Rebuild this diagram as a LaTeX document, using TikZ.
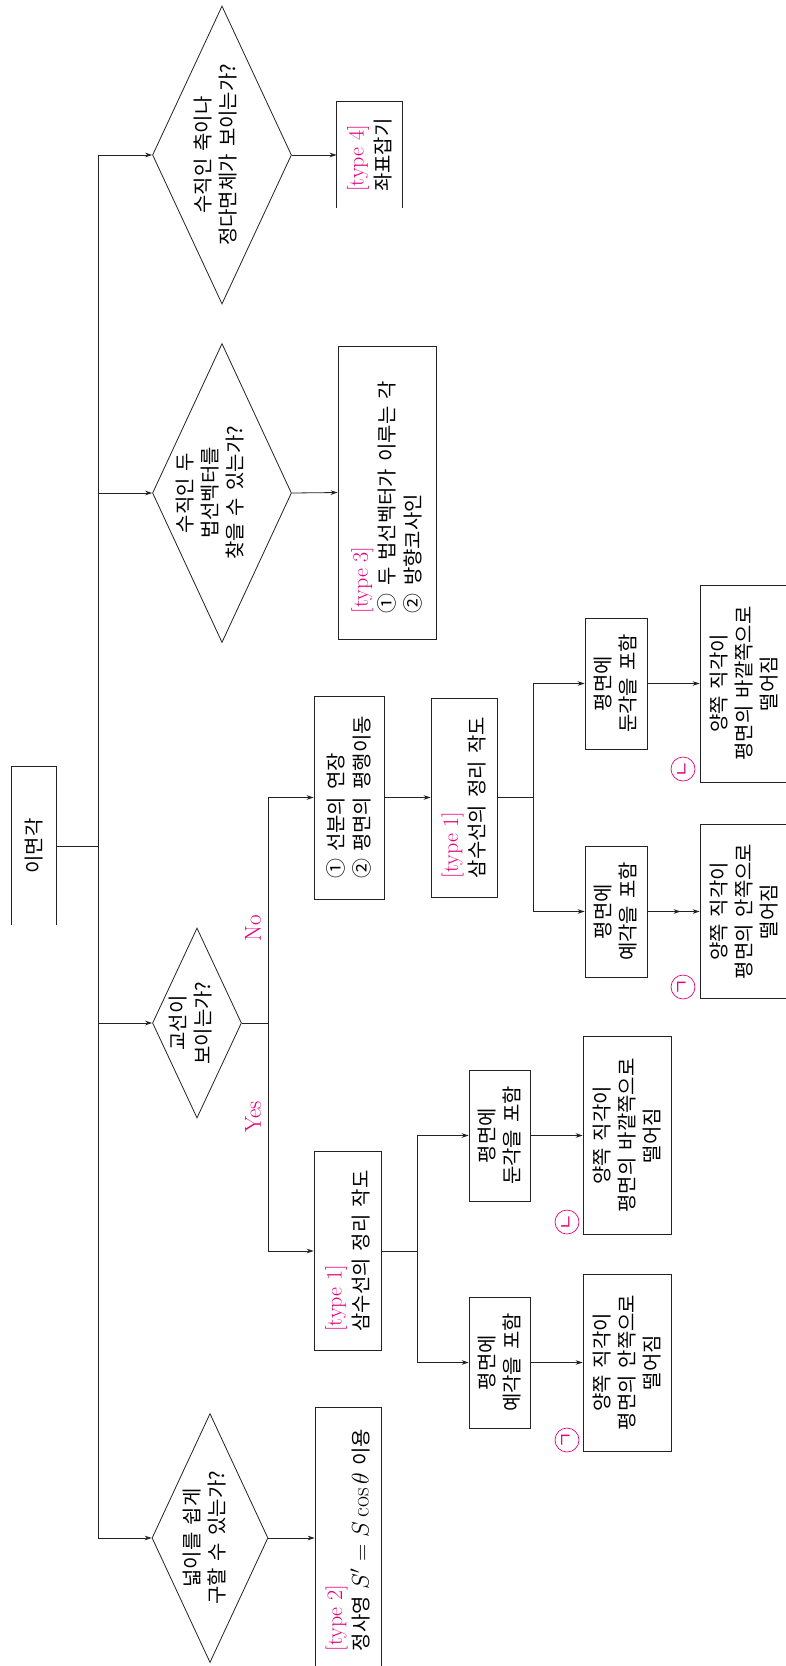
\documentclass[tikz,border=0pt]{standalone}
\usepackage{fix-cm}
\usepackage{fontspec}
\newfontfamily\kr[Scale=0.95,WordSpace=1.6]{Noto Sans CJK KR}
\usetikzlibrary{shapes.geometric,arrows.meta}
\definecolor{mag}{RGB}{228,0,127}
\definecolor{ln}{RGB}{35,35,35}
\newcommand\tg[1]{{\fontsize{22}{26.5}\selectfont\rmfamily\color{mag}#1}}
\newcommand\mth[1]{{\fontsize{24}{26.5}\selectfont$#1$}}
\begin{document}
\begin{tikzpicture}[x=1pt,y=-1pt,color=ln,line width=0.8pt,
  arr/.style={-{Stealth[length=7pt,width=4.6pt]}},
  arrtwo/.style={-{Stealth[length=7pt,width=4.6pt,sep=12pt]Stealth[length=7pt,width=4.6pt]}},
  box/.style={draw=ln, rectangle, inner sep=0pt},
  openbox/.style={rectangle, inner sep=0pt},
  dia/.style={draw=ln, diamond, inner sep=0pt},
  txt/.style={rotate=90, inner sep=0pt, align=center, text=black, font=\fontsize{21}{25}\selectfont\kr},
  ltxt/.style={txt, align=left, font=\fontsize{21}{26.5}\selectfont\kr},
  tag/.style={rotate=90, inner sep=0pt, text=mag, font=\fontsize{23}{25}\selectfont\rmfamily},
  cmark/.style={circle, draw=mag, text=mag, minimum size=24pt, inner sep=0pt, rotate=90, line width=0.7pt, font=\fontsize{19}{19}\selectfont\kr}
]
\useasboundingbox (0,0) rectangle (785,1666);

% root
\node[openbox, minimum width=44pt, minimum height=158pt] (root) at (34,846) {};
\draw (root.south west) -- (root.north west) -- (root.north east) -- (root.south east);
\node[txt] (roott) at (root.center) {이면각};

% trunk
\coordinate (tr) at (98,846);
\coordinate (t4) at (98,155);
\coordinate (t3) at (98,493);
\coordinate (t2) at (98,1023);
\coordinate (t1) at (98,1538);
\draw (t4) -- (t1);
\draw (root.east) -- (tr);

% diamonds
\node[dia, minimum width=139pt, minimum height=298pt] (d4) at (222,155) {};
\node[dia, minimum width=139pt, minimum height=299pt] (d3) at (222,493) {};
\node[dia, minimum width=89pt, minimum height=190pt] (d2) at (197,1023) {};
\node[dia, minimum width=116pt, minimum height=249pt] (d1) at (210,1538) {};
\node[txt] (d4t) at (215,155) {수직인 축이나\\정다면체가 보이는가?};
\node[txt] (d3t) at (210,493) {수직인 두\\법선벡터를\\찾을 수 있는가?};
\node[txt] (d2t) at (191,1023) {교선이\\보이는가?};
\node[txt] (d1t) at (205,1538) {넓이를 쉽게\\구할 수 있는가?};
\draw[arr] (t4) -- (d4.west);
\draw[arr] (t3) -- (d3.west);
\draw[arr] (t2) -- (d2.west);
\draw[arr] (t1) -- (d1.west);

% type boxes
\node[openbox, minimum width=65pt, minimum height=106pt] (b4) at (369.5,155) {};
\draw (b4.south west) -- (b4.north west) -- (b4.north east) -- (b4.south east);
\node[ltxt] (b4t) at (b4.center) {\tg{[type 4]}\\좌표잡기};
\node[box, minimum width=98pt, minimum height=293pt] (b3) at (387,492.5) {};
\node[ltxt] (b3t) at (387,497) {\tg{[type 3]}\\① 두 법선벡터가 이루는 각\\② 방향코사인};
\node[box, minimum width=66pt, minimum height=262pt] (b2) at (348,1538) {};
\node[ltxt] (b2t) at (348,1540) {\tg{[type 2]}\\정사영 \mth{S'=S\cos\theta} 이용};
\draw[arr] (d4.east) -- (b4.west);
\draw[arr] (d3.east) -- (b3.west);
\draw[arr] (d1.east) -- (b2.west);

% yes / no split
\coordinate (yn) at (268,1023);
\coordinate (ny) at (268,797.5);
\coordinate (yy) at (268,1251);
\draw (d2.east) -- (yn);
\draw (ny) -- (yy);
\node[tag] (nolab) at (253,928) {No};
\node[tag] (yeslab) at (253,1117) {Yes};

\node[box, minimum width=70pt, minimum height=203pt] (n1) at (349,797.5) {};
\node[ltxt] (n1t) at (n1.center) {① 선분의 연장\\② 평면의 평행이동};
\node[box, minimum width=66pt, minimum height=199pt] (n2) at (464,797.5) {};
\node[ltxt] (n2t) at (n2.center) {\tg{[type 1]}\\삼수선의 정리 작도};
\node[box, minimum width=67pt, minimum height=199pt] (by1) at (347.5,1251) {};
\node[ltxt] (by1t) at (by1.center) {\tg{[type 1]}\\삼수선의 정리 작도};
\draw[arr] (ny) -- (n1.west);
\draw[arr] (yy) -- (by1.west);
\draw[arr] (n1.east) -- (n2.west);

% No subtree
\coordinate (ns) at (533,797.5);
\node[box, minimum width=62pt, minimum height=131pt] (no) at (616,683.5) {};
\node[box, minimum width=62pt, minimum height=131pt] (na) at (616,911.5) {};
\node[txt] (not) at (no.center) {평면에\\둔각을 포함};
\node[txt] (nat) at (na.center) {평면에\\예각을 포함};
\node[box, minimum width=88pt, minimum height=197pt] (nlo) at (744,683.5) {};
\node[box, minimum width=88pt, minimum height=174pt] (nla) at (744,911.5) {};
\node[txt] (nlot) at (nlo.center) {양쪽 직각이\\평면의 바깥쪽으로\\떨어짐};
\node[txt] (nlat) at (nla.center) {양쪽 직각이\\평면의 안쪽으로\\떨어짐};
\node[cmark] (nc2) at (683,769) {ㄴ};
\node[cmark] (nc1) at (683,987) {ㄱ};
\draw (n2.east) -- (ns);
\draw[arr] (ns) |- (no.west);
\draw[arr] (ns) |- (na.west);
\draw[arr] (no.east) -- (nlo.west);
\draw[arrtwo] (na.east) -- (nla.west);

% Yes subtree
\coordinate (ys) at (417,1251);
\node[box, minimum width=61pt, minimum height=131pt] (yo) at (499.5,1135.5) {};
\node[box, minimum width=61pt, minimum height=131pt] (ya) at (499.5,1362.5) {};
\node[txt] (yot) at (yo.center) {평면에\\둔각을 포함};
\node[txt] (yat) at (ya.center) {평면에\\예각을 포함};
\node[box, minimum width=88pt, minimum height=198pt] (ylo) at (627,1135.5) {};
\node[box, minimum width=88pt, minimum height=177pt] (yla) at (627,1362.5) {};
\node[txt] (ylot) at (ylo.center) {양쪽 직각이\\평면의 바깥쪽으로\\떨어짐};
\node[txt] (ylat) at (yla.center) {양쪽 직각이\\평면의 안쪽으로\\떨어짐};
\node[cmark] (yc2) at (567,1222) {ㄴ};
\node[cmark] (yc1) at (567,1440) {ㄱ};
\draw (by1.east) -- (ys);
\draw[arr] (ys) |- (yo.west);
\draw[arr] (ys) |- (ya.west);
\draw[arr] (yo.east) -- (ylo.west);
\draw[arr] (ya.east) -- (yla.west);
\end{tikzpicture}
\end{document}
